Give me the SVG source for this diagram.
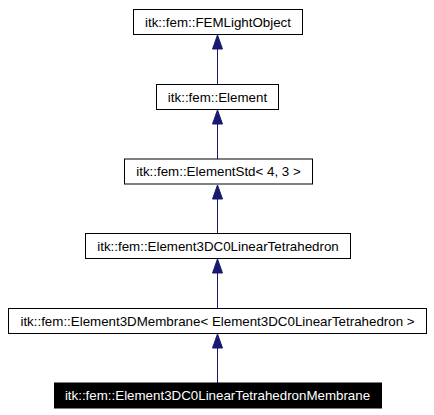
<svg xmlns="http://www.w3.org/2000/svg" width="434" height="415" viewBox="0 0 434 415">
<style>
.box{fill:#ffffff;stroke:#000000;stroke-width:1}
.sel{fill:#000000;stroke:#000000;stroke-width:1}
.t{font-family:"Liberation Sans",Arial,sans-serif;font-size:13.33px;text-anchor:middle;fill:#000000}
.tw{font-family:"Liberation Sans",Arial,sans-serif;font-size:13.33px;text-anchor:middle;fill:#ffffff}
.e{stroke:#191970;stroke-width:1;fill:none}
.ah{fill:#191970;stroke:#191970;stroke-width:1}
</style>
<rect x="0" y="0" width="434" height="415" fill="#ffffff"/>
<g id="connectors">
<line class="e" x1="217.5" y1="49" x2="217.5" y2="84"/>
<polygon class="ah" points="217.5,35 222.5,49 212.5,49"/>
<line class="e" x1="217.5" y1="124" x2="217.5" y2="159"/>
<polygon class="ah" points="217.5,110 222.5,124 212.5,124"/>
<line class="e" x1="217.5" y1="199" x2="217.5" y2="233"/>
<polygon class="ah" points="217.5,185 222.5,199 212.5,199"/>
<line class="e" x1="217.5" y1="273" x2="217.5" y2="308"/>
<polygon class="ah" points="217.5,259 222.5,273 212.5,273"/>
<line class="e" x1="217.5" y1="348" x2="217.5" y2="383"/>
<polygon class="ah" points="217.5,334 222.5,348 212.5,348"/>
</g>
<g id="node1">
<rect class="box" x="133.5" y="9.5" width="169" height="25"/>
<text class="t" x="218" y="26.5">itk::fem::FEMLightObject</text>
</g>
<g id="node2">
<rect class="box" x="156.5" y="84.5" width="122" height="25"/>
<text class="t" x="217.5" y="101.5">itk::fem::Element</text>
</g>
<g id="node3">
<rect class="box" x="124.5" y="159" width="188" height="25"/>
<text class="t" x="218.5" y="176">itk::fem::ElementStd&lt; 4, 3 &gt;</text>
</g>
<g id="node4">
<rect class="box" x="85.5" y="233.5" width="265" height="25"/>
<text class="t" x="218" y="250.5">itk::fem::Element3DC0LinearTetrahedron</text>
</g>
<g id="node5">
<rect class="box" x="8.5" y="308.5" width="418" height="25"/>
<text class="t" x="217.5" y="325.5">itk::fem::Element3DMembrane&lt; Element3DC0LinearTetrahedron &gt;</text>
</g>
<g id="node6">
<rect class="sel" x="54.5" y="383" width="327" height="25"/>
<text class="tw" x="217.5" y="400">itk::fem::Element3DC0LinearTetrahedronMembrane</text>
</g>
</svg>
